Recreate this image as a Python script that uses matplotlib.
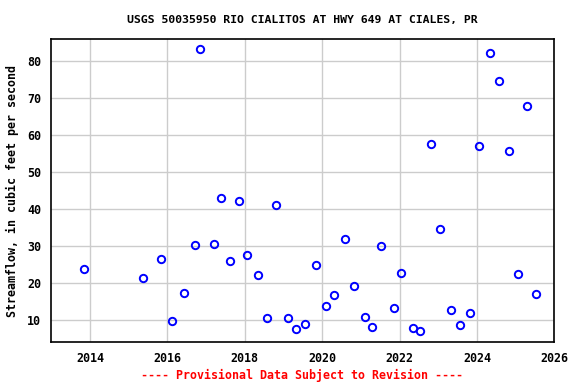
import numpy as np
import matplotlib
matplotlib.use("Agg")
import matplotlib.pyplot as plt

# Sampled measurements (decimal year, discharge in cfs)
years = [2013.85, 2015.37, 2015.84, 2016.11, 2016.42, 2016.70, 2016.85,
         2017.21, 2017.39, 2017.62, 2017.86, 2018.06, 2018.34, 2018.58,
         2018.81, 2019.12, 2019.32, 2019.55, 2019.84, 2020.09, 2020.30,
         2020.58, 2020.81, 2021.10, 2021.30, 2021.53, 2021.85, 2022.05,
         2022.36, 2022.53, 2022.82, 2023.05, 2023.33, 2023.56, 2023.82,
         2024.05, 2024.33, 2024.57, 2024.82, 2025.05, 2025.29, 2025.54]
flow = [23.8, 21.35, 26.5, 9.7, 17.3, 30.3, 83.4,
        30.5, 43.0, 26.0, 42.2, 27.6, 22.2, 10.6,
        41.1, 10.6, 7.6, 8.9, 24.9, 13.9, 16.8,
        31.9, 19.2, 10.8, 8.2, 30.0, 13.2, 22.7,
        7.8, 7.0, 57.6, 34.6, 12.7, 8.6, 11.9,
        57.0, 82.2, 74.6, 55.7, 22.4, 67.8, 17.0]

x_ticks = [2014, 2016, 2018, 2020, 2022, 2024, 2026]
y_ticks = [10, 20, 30, 40, 50, 60, 70, 80]

title = "USGS 50035950 RIO CIALITOS AT HWY 649 AT CIALES, PR"
ylabel = "Streamflow, in cubic feet per second"
footer = "---- Provisional Data Subject to Revision ----"

mono = "DejaVu Sans Mono"

fig = plt.figure(figsize=(5.76, 3.84), dpi=100)
ax = fig.add_axes([0.0885, 0.1094, 0.8738, 0.7883])

ax.plot(years, flow, linestyle="none", marker="o", markersize=5.3,
        markerfacecolor="none", markeredgecolor="blue", markeredgewidth=1.4,
        zorder=3)

ax.set_xlim(2012.99, 2026.0)
ax.set_ylim(4.14, 85.95)
ax.set_xticks(x_ticks)
ax.set_yticks(y_ticks)
ax.set_xticklabels([str(t) for t in x_ticks], fontfamily=mono,
                   fontweight="bold", fontsize=8.4)
ax.set_yticklabels([str(t) for t in y_ticks], fontfamily=mono,
                   fontweight="bold", fontsize=8.4)
ax.tick_params(length=0, pad=7)
ax.grid(True, color="#cccccc", linewidth=1.0, zorder=0)
ax.set_axisbelow(True)
for s in ax.spines.values():
    s.set_linewidth(1.2)
    s.set_color("black")

ax.set_ylabel(ylabel, fontfamily=mono, fontweight="bold", fontsize=8.4,
              labelpad=6)
fig.text(0.524, 0.948, title, ha="center", va="center", fontfamily=mono,
         fontweight="bold", fontsize=8.25)
fig.text(0.524, 0.023, footer, ha="center", va="center", fontfamily=mono,
         fontweight="bold", fontsize=8.4, color="red")

fig.savefig("out.png", dpi=100)
